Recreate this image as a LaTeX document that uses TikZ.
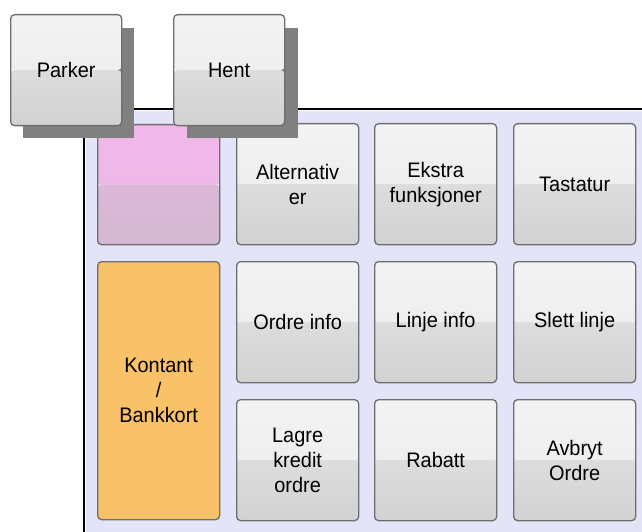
\documentclass[tikz,border=0pt]{standalone}
\usepackage{fontspec}
\setmainfont{Liberation Sans}[FakeStretch=0.95]
\definecolor{lav}{HTML}{E4E4F8}
\definecolor{btnA}{HTML}{F3F3F3}
\definecolor{btnB}{HTML}{EAEAEA}
\definecolor{btnC}{HTML}{DDDDDD}
\definecolor{btnD}{HTML}{D2D2D2}
\definecolor{pinkA}{HTML}{F0B8E9}
\definecolor{pinkB}{HTML}{EAB8E5}
\definecolor{pinkC}{HTML}{DDB8D9}
\definecolor{pinkD}{HTML}{D3B8D1}
\definecolor{orng}{HTML}{F9C168}
\definecolor{bord}{HTML}{6E6E6E}
\definecolor{shad}{HTML}{808080}
\tikzset{
  btnbase/.style={draw=bord, line width=1.3pt, rounded corners=4pt, anchor=north west,
    inner sep=0pt, align=center, font=\fontsize{21}{25}\selectfont, text=black},
  greybtn/.style={btnbase, minimum width=122pt, minimum height=121pt,
    path picture={
      \shade[top color=btnA, bottom color=btnB] (path picture bounding box.north west) rectangle (path picture bounding box.east);
      \shade[top color=btnC, bottom color=btnD] (path picture bounding box.west) rectangle (path picture bounding box.south east);
    }},
  topbtn/.style={greybtn, minimum width=111pt, minimum height=111pt},
  pinkbtn/.style={btnbase, minimum width=122pt, minimum height=120pt,
    path picture={
      \shade[top color=pinkA, bottom color=pinkB] (path picture bounding box.north west) rectangle (path picture bounding box.east);
      \shade[top color=pinkC, bottom color=pinkD] (path picture bounding box.west) rectangle (path picture bounding box.south east);
    }},
  orangebtn/.style={btnbase, fill=orng, minimum width=122pt, minimum height=258pt},
  shadowbox/.style={fill=shad, draw=none},
}
\begin{document}
\begin{tikzpicture}[x=1pt,y=-1pt]
\useasboundingbox (0,0) rectangle (642,532);
\fill[white] (0,0) rectangle (642,532);
% panel
\fill[lav] (86,111.5) rectangle (642,532);
\draw[line width=1.3pt] (84,532) -- (84,109) -- (642,109);
% grid buttons
\node[pinkbtn] (pink) at (97,124) {};
\node[greybtn] (alt) at (236,123) {Alternativ\\er};
\node[greybtn] (ekstra) at (374,123) {Ekstra\\funksjoner};
\node[greybtn] (tast) at (513,123) {Tastatur};
\node[orangebtn] (kontant) at (97,261) {Kontant\\/\\Bankkort};
\node[greybtn] (ordre) at (236,261) {Ordre info};
\node[greybtn] (linje) at (374,261) {Linje info};
\node[greybtn] (slett) at (513,261) {Slett linje};
\node[greybtn] (lagre) at (236,399) {Lagre\\kredit\\ordre};
\node[greybtn] (rabatt) at (374,399) {Rabatt};
\node[greybtn] (avbryt) at (513,399) {Avbryt\\Ordre};
% shadows
\fill[shadowbox] (23,28) rectangle (134,138);
\fill[shadowbox] (187,28) rectangle (298,138);
% top buttons
\node[topbtn] (parker) at (10,14) {Parker};
\node[topbtn] (hent) at (173,14) {Hent};
\end{tikzpicture}
\end{document}
